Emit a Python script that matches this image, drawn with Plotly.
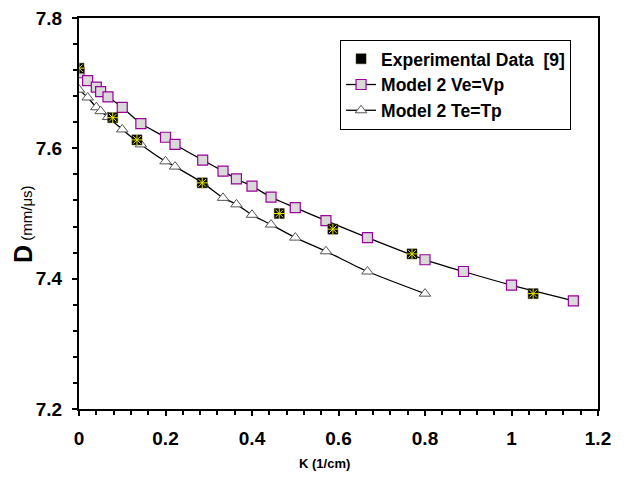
import plotly.graph_objects as go

# Experimental data [9]
exp_k = [0.0, 0.078, 0.134, 0.285, 0.463, 0.587, 0.770, 1.050]
exp_d = [7.723, 7.647, 7.613, 7.547, 7.500, 7.476, 7.438, 7.377]

# Model 2 Ve=Vp
ve_k = [0.0, 0.02, 0.04, 0.05, 0.067, 0.1, 0.143, 0.2, 0.222, 0.286, 0.333, 0.364,
        0.4, 0.444, 0.5, 0.571, 0.667, 0.8, 0.889, 1.0, 1.143]
ve_d = [7.716, 7.704, 7.694, 7.687, 7.679, 7.663, 7.638, 7.617, 7.606, 7.582, 7.565,
        7.553, 7.542, 7.525, 7.509, 7.489, 7.463, 7.429, 7.411, 7.390, 7.366]

# Model 2 Te=Tp
te_k = [0.0, 0.02, 0.04, 0.05, 0.067, 0.1, 0.143, 0.2, 0.222, 0.286, 0.333, 0.364,
        0.4, 0.444, 0.5, 0.571, 0.667, 0.8]
te_d = [7.690, 7.678, 7.663, 7.657, 7.648, 7.629, 7.606, 7.580, 7.572, 7.547, 7.524,
        7.514, 7.498, 7.483, 7.463, 7.442, 7.411, 7.377]

x_ticks = [0, 0.2, 0.4, 0.6, 0.8, 1, 1.2]
x_tick_text = ["0", "0.2", "0.4", "0.6", "0.8", "1", "1.2"]
y_ticks = [7.2, 7.4, 7.6, 7.8]
y_tick_text = ["7.2", "7.4", "7.6", "7.8"]

fig = go.Figure()

fig.add_trace(go.Scatter(
    x=ve_k, y=ve_d, mode="lines+markers", name="Model 2 Ve=Vp",
    line=dict(color="black", width=1.3, shape="spline", smoothing=0.6),
    marker=dict(symbol="square", size=10, color="#d9d9d9",
                line=dict(color="#990099", width=1.2)),
    legendrank=2,
))
fig.add_trace(go.Scatter(
    x=te_k, y=te_d, mode="lines+markers", name="Model 2 Te=Tp",
    line=dict(color="black", width=1.3, shape="spline", smoothing=0.6),
    marker=dict(symbol="triangle-up", size=10, color="white",
                line=dict(color="#555555", width=1)),
    legendrank=3,
))
fig.add_trace(go.Scatter(
    x=exp_k, y=exp_d, mode="markers", name="Experimental Data  [9]",
    marker=dict(symbol="square", size=10, color="black",
                line=dict(color="#333300", width=0.5)),
    legendgroup="exp", legendrank=1,
))
fig.add_trace(go.Scatter(
    x=exp_k, y=exp_d, mode="markers", showlegend=False,
    marker=dict(symbol="asterisk-open", size=9, color="#e6e600",
                line=dict(color="#e6e600", width=1)),
    legendgroup="exp", hoverinfo="skip",
))

tick_font = dict(family="Arial", size=19, color="black", weight="bold")

# page body has an 8px margin: plot area 79..598 x 18..409 in the window
fig.update_layout(
    width=624, height=479,
    margin=dict(l=71, r=34, t=10, b=78),
    paper_bgcolor="white", plot_bgcolor="white",
    showlegend=True,
    legend=dict(
        x=0.503, y=0.944, xanchor="left", yanchor="top",
        bgcolor="white", bordercolor="black", borderwidth=1,
        font=dict(family="Arial", size=17.5, color="black", weight="bold"),
        itemwidth=30, tracegroupgap=0,
    ),
    xaxis=dict(
        range=[0, 1.2], tickvals=x_ticks, ticktext=x_tick_text,
        showgrid=False, zeroline=False, automargin=False,
        showline=True, linecolor="black", linewidth=2, mirror=True,
        ticks="outside", ticklen=5, tickwidth=2, tickcolor="black",
        tickfont=tick_font, ticklabelstandoff=6, ticklabeloverflow="allow",
        minor=dict(dtick=0.04, ticks="outside", ticklen=4, tickwidth=2, tickcolor="black"),
    ),
    yaxis=dict(
        range=[7.2, 7.8], tickvals=y_ticks, ticktext=y_tick_text,
        showgrid=False, zeroline=False, automargin=False,
        showline=True, linecolor="black", linewidth=2, mirror=True,
        ticks="outside", ticklen=5, tickwidth=2, tickcolor="black",
        tickfont=tick_font, ticklabelstandoff=6, ticklabeloverflow="allow",
        minor=dict(dtick=0.04, ticks="outside", ticklen=4, tickwidth=2, tickcolor="black"),
    ),
    annotations=[
        dict(text="<b>Κ (1/cm)</b>", xref="paper", yref="paper",
             x=(324 - 79) / 519, y=-(463 - 409) / 391, xanchor="center", yanchor="middle",
             showarrow=False, font=dict(family="Arial", size=13, color="black")),
        dict(text="<b>D</b><span style='font-size:15px'> (mm/μs)</span>",
             xref="paper", yref="paper", textangle=-90,
             x=-(79 - 23) / 519, y=1 - (224 - 18) / 391, xanchor="center", yanchor="middle",
             showarrow=False, font=dict(family="Arial", size=25, color="black")),
    ],
)

fig.write_html("out.html")
